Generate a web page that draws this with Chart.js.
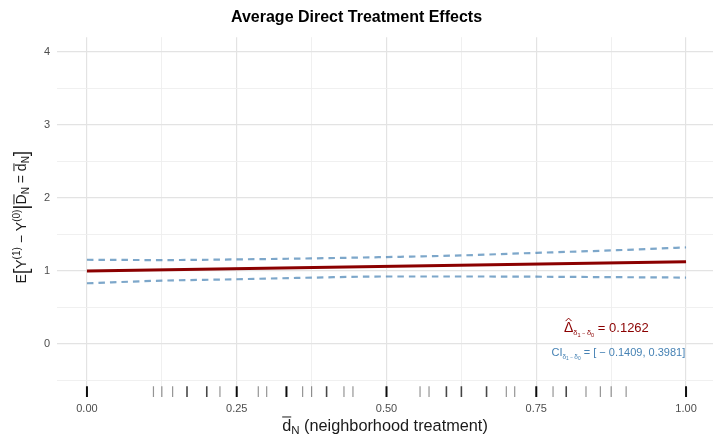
<!DOCTYPE html>
<html>
<head>
<meta charset="utf-8">
<title>Average Direct Treatment Effects</title>
<script src="https://cdn.jsdelivr.net/npm/chart.js@4.4.1/dist/chart.umd.min.js"></script>
<style>
  html, body { margin: 0; padding: 0; background: #fff; }
  #wrap { width: 713px; height: 438px; }
</style>
</head>
<body>
<div id="wrap"><canvas id="chart" width="713" height="438"></canvas></div>
<script>
// confidence band evaluated on a grid of neighborhood treatment values
const xGrid = [0, 0.125, 0.25, 0.375, 0.5, 0.625, 0.75, 0.875, 1];
const ciUpper = [1.154, 1.150, 1.159, 1.173, 1.191, 1.214, 1.249, 1.282, 1.323];
const ciLower = [0.832, 0.868, 0.887, 0.909, 0.925, 0.925, 0.922, 0.916, 0.910];

// fitted direct effect: intercept at d=0, slope = estimated difference
const estX = [0, 1];
const estIntercept = 1.0;
const deltaHat = 0.1262;
const deltaCI = [-0.1409, 0.3981];

// observed neighborhood treatment shares (rug) and how many units share each
const rugX = [0, 0.111, 0.125, 0.143, 0.167, 0.2, 0.222, 0.25, 0.286, 0.3, 0.333,
  0.36, 0.375, 0.4, 0.429, 0.444, 0.5, 0.556, 0.571, 0.6, 0.625, 0.667, 0.7,
  0.714, 0.75, 0.778, 0.8, 0.833, 0.857, 0.875, 0.9, 1];
const rugCounts = [3, 1, 1, 1, 2, 2, 1, 3, 1, 1, 3,
  1, 1, 2, 1, 1, 3, 1, 1, 2, 2, 2, 1,
  1, 3, 1, 2, 1, 1, 1, 1, 3];

// axis ticks
const xTicks = [0, 0.125, 0.25, 0.375, 0.5, 0.625, 0.75, 0.875, 1];
const xLabels = ["0.00", "", "0.25", "", "0.50", "", "0.75", "", "1.00"];
const yTicks = [-0.5, 0, 0.5, 1, 1.5, 2, 2.5, 3, 3.5, 4];
const yLabels = ["", "0", "", "1", "", "2", "", "3", "", "4"];

const X_MIN = -0.05, X_MAX = 1.045;
const Y_MIN = -0.726, Y_MAX = 4.203;

const FONT = "'Liberation Sans', Arial, Helvetica, sans-serif";
const DARKRED = "#8B0000";
const STEEL = "#4682B4";
const BAND = "rgba(70, 130, 180, 0.7)";

const estimate = [estIntercept, estIntercept + deltaHat];
// rug sits in the bottom 3% of the panel
const rugHalf = 0.015 * (Y_MAX - Y_MIN);
const rugY = Y_MIN + rugHalf;

function rugColor(n) {
  if (n >= 3) return "rgba(0,0,0,0.95)";
  if (n === 2) return "rgba(0,0,0,0.72)";
  return "rgba(0,0,0,0.42)";
}

// draw a row of text pieces (sub/superscripts, overlines, hats)
function drawRuns(ctx, runs, x, y, align) {
  let total = 0;
  runs.forEach(r => {
    ctx.font = r.s + "px " + FONT;
    r.w = ctx.measureText(r.t).width;
    total += r.w;
  });
  let cx = align === "center" ? x - total / 2 : align === "right" ? x - total : x;
  ctx.textBaseline = "alphabetic";
  ctx.textAlign = "left";
  runs.forEach(r => {
    const by = y + (r.dy || 0);
    ctx.font = r.s + "px " + FONT;
    ctx.fillText(r.t, cx, by);
    if (r.over) {
      ctx.beginPath();
      ctx.lineWidth = 1;
      ctx.strokeStyle = ctx.fillStyle;
      const oy = by - r.s * 0.86;
      ctx.moveTo(cx, oy);
      ctx.lineTo(cx + r.w, oy);
      ctx.stroke();
    }
    if (r.hat) {
      const top = by - r.s * 0.74;
      const mid = cx + r.w / 2;
      ctx.beginPath();
      ctx.lineWidth = 1;
      ctx.strokeStyle = ctx.fillStyle;
      ctx.moveTo(mid - 3, top - 1);
      ctx.lineTo(mid, top - 4);
      ctx.lineTo(mid + 3, top - 1);
      ctx.stroke();
    }
    cx += r.w;
  });
}

// subscript "delta1 - delta0" at a given size
function deltaSub(s) {
  return [
    { t: "\u03b4", s: s, dy: 3 },
    { t: "1", s: s * 0.75, dy: 4.5 },
    { t: " \u2212 ", s: s * 0.75, dy: 3 },
    { t: "\u03b4", s: s, dy: 3 },
    { t: "0", s: s * 0.75, dy: 4.5 }
  ];
}

const titlesPlugin = {
  id: "mathTitles",
  afterDraw(chart) {
    const ctx = chart.ctx;
    const area = chart.chartArea;
    const xs = chart.scales.x, ys = chart.scales.y;

    // x axis title
    ctx.save();
    ctx.fillStyle = "#1a1a1a";
    drawRuns(ctx, [
      { t: "d", s: 16.3, over: true },
      { t: "N", s: 11.5, dy: 3 },
      { t: " (neighborhood treatment)", s: 16.3 }
    ], (area.left + area.right) / 2, 431, "center");
    ctx.restore();

    // y axis title, rotated
    ctx.save();
    ctx.fillStyle = "#1a1a1a";
    ctx.translate(0, (area.top + area.bottom) / 2);
    ctx.rotate(-Math.PI / 2);
    drawRuns(ctx, [
      { t: "E", s: 14 },
      { t: "[", s: 20, dy: 2 },
      { t: "Y", s: 14 },
      { t: "(1)", s: 10, dy: -6 },
      { t: " \u2212 ", s: 14 },
      { t: "Y", s: 14 },
      { t: "(0)", s: 10, dy: -6 },
      { t: "|", s: 20, dy: 2 },
      { t: "D", s: 14, over: true },
      { t: "N", s: 10, dy: 3 },
      { t: " = ", s: 14 },
      { t: "d", s: 14, over: true },
      { t: "N", s: 10, dy: 3 },
      { t: "]", s: 20, dy: 2 }
    ], 0, 26, "center");
    ctx.restore();

    // estimate and interval of the difference
    ctx.save();
    ctx.fillStyle = DARKRED;
    drawRuns(ctx, [{ t: "\u0394", s: 14, hat: true }]
      .concat(deltaSub(7.5))
      .concat([{ t: " = " + deltaHat.toFixed(4), s: 13 }]),
      xs.getPixelForValue(0.867), ys.getPixelForValue(0.158), "center");
    ctx.fillStyle = STEEL;
    drawRuns(ctx, [{ t: "CI", s: 11 }]
      .concat(deltaSub(6.5))
      .concat([{ t: " = [ \u2212 " + Math.abs(deltaCI[0]).toFixed(4) + ", " + deltaCI[1].toFixed(4) + "]", s: 11 }]),
      xs.getPixelForValue(0.887), ys.getPixelForValue(-0.158), "center");
    ctx.restore();
  }
};

const ctx = document.getElementById("chart").getContext("2d");

new Chart(ctx, {
  type: "line",
  data: {
    datasets: [
      {
        label: "estimate",
        data: estX.map((x, i) => ({ x: x, y: estimate[i] })),
        borderColor: DARKRED,
        borderWidth: 3,
        pointRadius: 0,
        order: 0
      },
      {
        label: "upper",
        data: xGrid.map((x, i) => ({ x: x, y: ciUpper[i] })),
        borderColor: BAND,
        borderWidth: 2.2,
        borderDash: [6.5, 5],
        cubicInterpolationMode: "monotone",
        pointRadius: 0,
        order: 1
      },
      {
        label: "lower",
        data: xGrid.map((x, i) => ({ x: x, y: ciLower[i] })),
        borderColor: BAND,
        borderWidth: 2.2,
        borderDash: [6.5, 5],
        cubicInterpolationMode: "monotone",
        pointRadius: 0,
        order: 1
      },
      {
        label: "rug",
        data: rugX.map(x => ({ x: x, y: rugY })),
        showLine: false,
        pointStyle: "line",
        rotation: 90,
        pointRadius: 5.4,
        pointBorderColor: rugCounts.map(rugColor),
        pointBorderWidth: rugCounts.map(n => (n >= 3 ? 2 : n === 2 ? 1.6 : 1.2)),
        order: 2
      }
    ]
  },
  options: {
    responsive: false,
    animation: false,
    events: [],
    layout: { padding: 0, autoPadding: false },
    plugins: {
      legend: { display: false },
      tooltip: { enabled: false },
      title: {
        display: true,
        text: "Average Direct Treatment Effects",
        color: "#000",
        font: { family: FONT, size: 16, weight: "bold" },
        padding: { top: 8, bottom: 10 }
      }
    },
    scales: {
      x: {
        type: "linear",
        min: X_MIN,
        max: X_MAX,
        afterBuildTicks: s => { s.ticks = xTicks.map(v => ({ value: v })); },
        afterFit: s => { s.height = 41; s.paddingLeft = 0; s.paddingRight = 0; },
        border: { display: false },
        grid: {
          drawTicks: false,
          color: c => (c.index % 2 === 0 ? "#e3e3e3" : "#eeeeee"),
          lineWidth: c => (c.index % 2 === 0 ? 1.2 : 0.9)
        },
        ticks: {
          autoSkip: false,
          maxRotation: 0,
          padding: 5,
          color: "#4d4d4d",
          font: { family: FONT, size: 11 },
          callback: (v, i) => xLabels[i]
        }
      },
      y: {
        type: "linear",
        min: Y_MIN,
        max: Y_MAX,
        afterBuildTicks: s => { s.ticks = yTicks.map(v => ({ value: v })); },
        afterFit: s => { s.width = 57; s.paddingTop = 0; s.paddingBottom = 0; },
        border: { display: false },
        grid: {
          drawTicks: false,
          color: c => (yLabels[c.index] !== "" ? "#e3e3e3" : "#eeeeee"),
          lineWidth: c => (yLabels[c.index] !== "" ? 1.2 : 0.9)
        },
        ticks: {
          autoSkip: false,
          padding: 7,
          color: "#4d4d4d",
          font: { family: FONT, size: 11 },
          callback: (v, i) => yLabels[i]
        }
      }
    }
  },
  plugins: [titlesPlugin]
});
</script>
</body>
</html>
